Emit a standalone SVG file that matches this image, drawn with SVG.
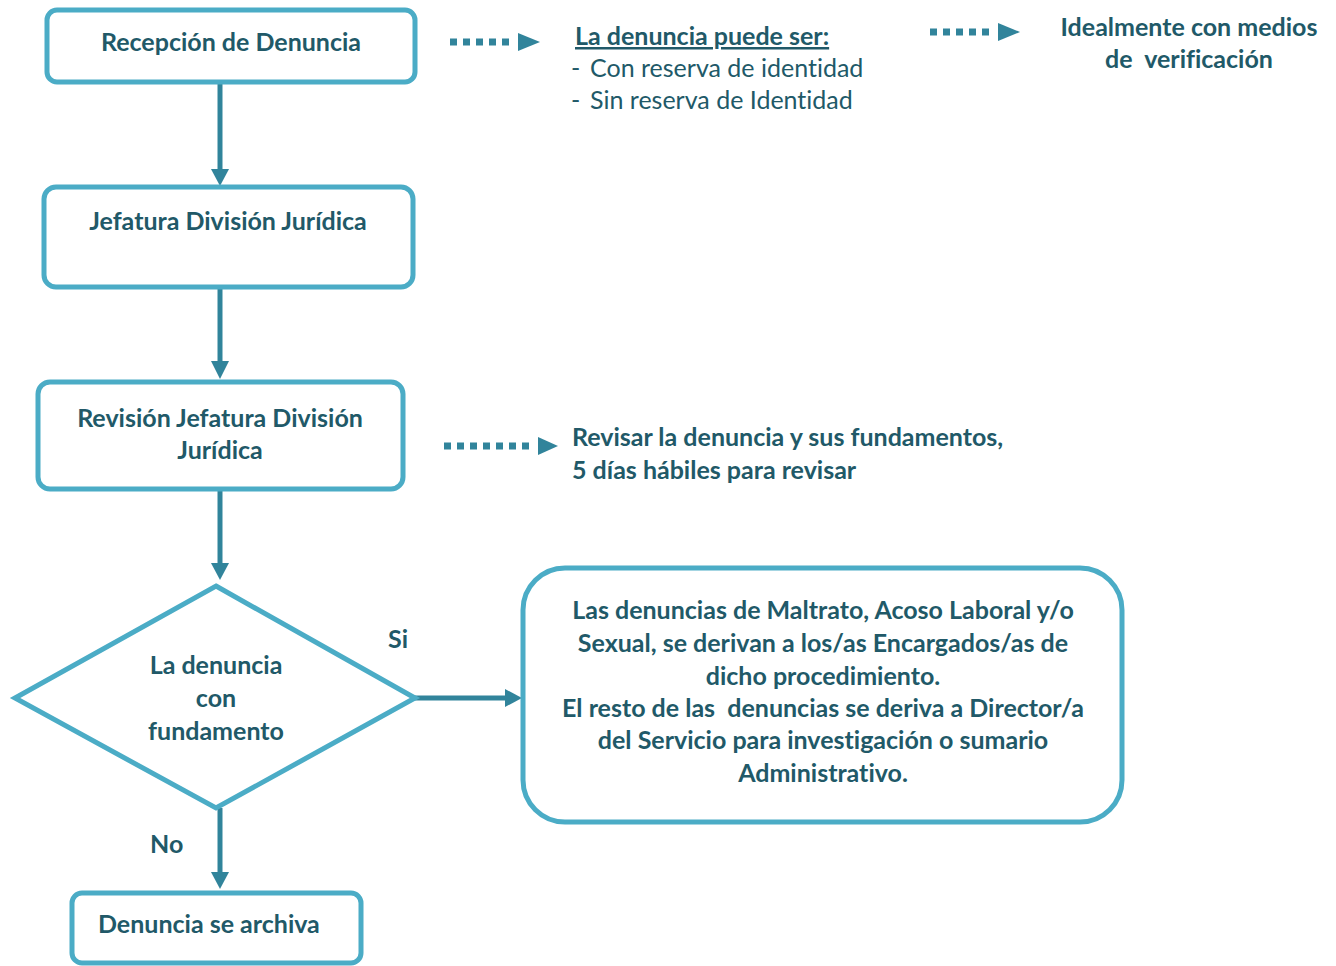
<svg xmlns="http://www.w3.org/2000/svg" width="1336" height="966" viewBox="0 0 1336 966">
<defs>
<style>
.box{fill:#fff;stroke:#4BACC6;stroke-width:5}
.t{font-family:"Lato","Liberation Sans",sans-serif;font-weight:bold;font-size:25px;fill:#215968;white-space:pre;font-variant-ligatures:none}
.n{font-family:"Lato","Liberation Sans",sans-serif;font-size:25px;fill:#215968;white-space:pre;font-variant-ligatures:none}
.c{text-anchor:middle}
.ln{stroke:#31849B;stroke-width:5;fill:none}
.dot{stroke:#31849B;stroke-width:7;stroke-dasharray:7 6;fill:none}
.ah{fill:#31849B}
</style>
</defs>
<rect width="1336" height="966" fill="#fff"/>
<g id="connectors">
<line class="ln" x1="220" y1="84" x2="220" y2="170"/>
<polygon class="ah" points="211,169 229,169 220,186"/>
<line class="ln" x1="220" y1="289" x2="220" y2="362"/>
<polygon class="ah" points="211,361 229,361 220,379"/>
<line class="ln" x1="220" y1="491" x2="220" y2="564"/>
<polygon class="ah" points="211,563 229,563 220,580"/>
<line class="ln" x1="415" y1="698" x2="506" y2="698"/>
<polygon class="ah" points="505,689 505,707 522,698"/>
<line class="ln" x1="220" y1="808" x2="220" y2="873"/>
<polygon class="ah" points="211,872 229,872 220,889"/>
<line class="dot" x1="450" y1="42" x2="515" y2="42"/>
<polygon class="ah" points="518,33 518,51 540,42"/>
<line class="dot" x1="930" y1="32" x2="995" y2="32"/>
<polygon class="ah" points="998,23 998,41 1020,32"/>
<line class="dot" x1="444" y1="446" x2="535" y2="446"/>
<polygon class="ah" points="538,437 538,455 558,446"/>
</g>
<g id="recepcion">
<rect class="box" x="47" y="10" width="368" height="72" rx="10"/>
<text class="t c" x="231" y="51">Recepción de Denuncia</text>
</g>
<g id="jefatura">
<rect class="box" x="44" y="187" width="369" height="100" rx="12"/>
<text class="t c" x="228" y="230">Jefatura División Jurídica</text>
</g>
<g id="revision">
<rect class="box" x="38" y="382" width="365" height="107" rx="12"/>
<text class="t c" x="220" y="427">Revisión Jefatura División</text>
<text class="t c" x="220" y="459">Jurídica</text>
</g>
<g id="decision">
<polygon class="box" points="216,586 415,698 216,808 15,698"/>
<text class="t c" x="216" y="674">La denuncia</text>
<text class="t c" x="216" y="707">con</text>
<text class="t c" x="216" y="740">fundamento</text>
</g>
<g id="derivacion">
<rect class="box" x="523" y="568" width="599" height="254" rx="42"/>
<text class="t c" x="823" y="619">Las denuncias de Maltrato, Acoso Laboral y/o</text>
<text class="t c" x="823" y="652">Sexual, se derivan a los/as Encargados/as de</text>
<text class="t c" x="823" y="685">dicho procedimiento.</text>
<text class="t c" x="823" y="717">El resto de las  denuncias se deriva a Director/a</text>
<text class="t c" x="823" y="749">del Servicio para investigación o sumario</text>
<text class="t c" x="823" y="782">Administrativo.</text>
</g>
<g id="archiva">
<rect class="box" x="72" y="893" width="289" height="70" rx="10"/>
<text class="t" x="98" y="933">Denuncia se archiva</text>
</g>
<g id="labels">
<text class="t" x="388" y="648">Si</text>
<text class="t" x="150" y="853">No</text>
<text class="t" x="575" y="45" text-decoration="underline">La denuncia puede ser:</text>
<text class="n" x="571" y="77">-<tspan x="590">Con reserva de identidad</tspan></text>
<text class="n" x="571" y="109">-<tspan x="590">Sin reserva de Identidad</tspan></text>
<text class="t c" x="1189" y="36">Idealmente con medios</text>
<text class="t c" x="1189" y="68">de  verificación</text>
<text class="t" x="572" y="446">Revisar la denuncia y sus fundamentos,</text>
<text class="t" x="572" y="479">5 días hábiles para revisar</text>
</g>
</svg>
